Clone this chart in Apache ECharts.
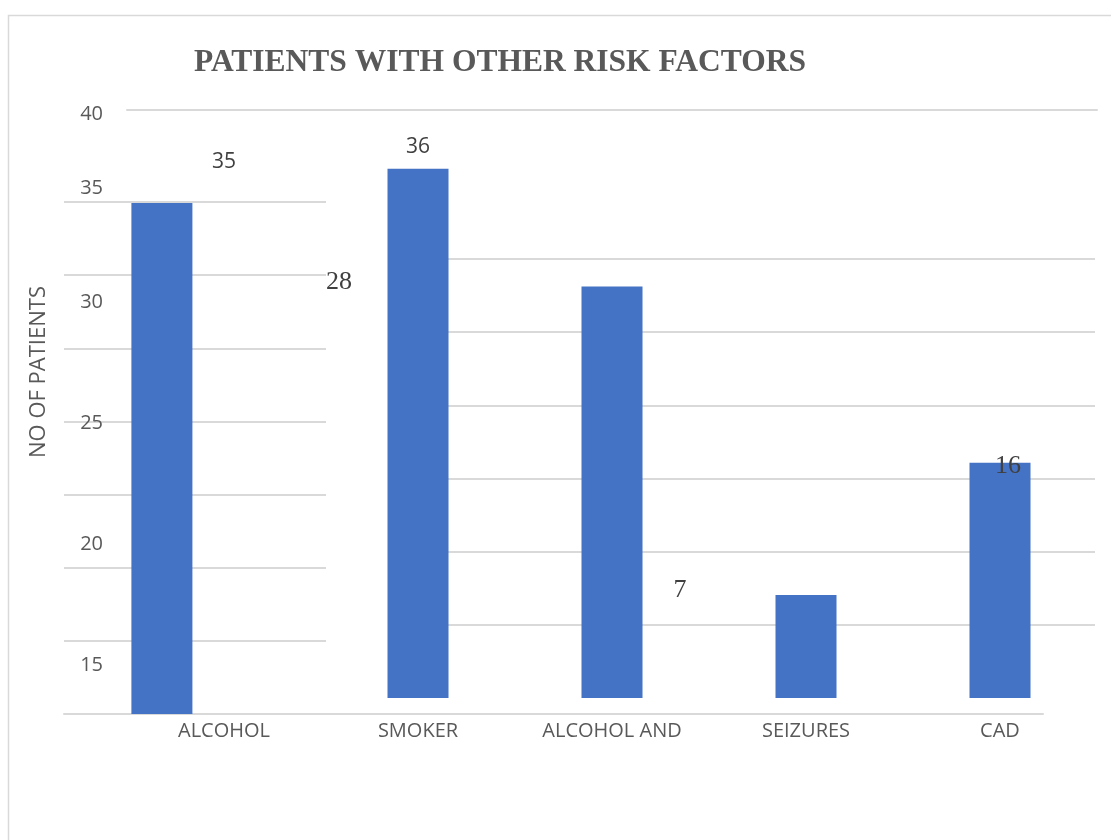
<!DOCTYPE html>
<html>
<head>
<meta charset="utf-8">
<title>Patients with other risk factors</title>
<script src="https://cdn.jsdelivr.net/npm/echarts@6/dist/echarts.min.js"></script>
<style>
  html, body { margin: 0; padding: 0; background: #ffffff; }
  #chart { width: 1111px; height: 840px; }
</style>
</head>
<body>
<div id="chart"></div>
<script>
// Risk factor categories and patient counts
const categories = ['ALCOHOL', 'SMOKER', 'ALCOHOL AND', 'SEIZURES', 'CAD'];
const patients = [35, 36, 28, 7, 16];

// Tick labels of the value scale at the left
const upperTicks = [35, 40];
const lowerTicks = [15, 20, 25, 30];

const chartTitle = 'PATIENTS WITH OTHER RISK FACTORS';
const axisTitle = 'NO OF PATIENTS';

const BAR = '#4472C4';
const GRID_LINE = '#d9d9d9';
const TEXT = '#595959';
const LABEL = '#404040';
const SANS = '"Open Sans", "Noto Sans", sans-serif';
const SERIF = '"Liberation Serif", "DejaVu Serif", serif';

// Label placement for each bar of the right-hand panel
const labelStyles = [
  null,
  { offset: [0, -6], fontFamily: SANS, fontSize: 21 },
  { offset: [-273, 14], fontFamily: SERIF, fontSize: 26 },
  { offset: [-126, 13], fontFamily: SERIF, fontSize: 26 },
  { offset: [8, 21], fontFamily: SERIF, fontSize: 26 }
];

const leftData = patients.map((v, i) => (i === 0 ? v : null));
const rightData = patients.map((v, i) => {
  if (i === 0) return null;
  const s = labelStyles[i];
  return {
    value: v,
    label: { offset: s.offset, fontFamily: s.fontFamily, fontSize: s.fontSize }
  };
});

const hiddenValueX = (gridIndex) => ({ type: 'value', gridIndex: gridIndex, show: false });
const lineStyle = { color: GRID_LINE, width: 2 };

const chart = echarts.init(document.getElementById('chart'), null, { renderer: 'canvas' });

chart.setOption({
  animation: false,
  backgroundColor: '#ffffff',
  title: {
    text: chartTitle,
    left: 189,
    top: 42,
    textStyle: {
      fontFamily: SERIF,
      fontWeight: 'bold',
      fontSize: 31.5,
      color: TEXT
    }
  },
  graphic: [{
    type: 'rect',
    shape: { x: 8.5, y: 15.5, width: 1200, height: 900 },
    style: { fill: 'none', stroke: GRID_LINE, lineWidth: 1.5 },
    silent: true
  }],
  grid: [
    // 0: alcohol panel with the base axis
    { left: 64, right: 68, top: 130, bottom: 126 },
    // 1: horizontal guides of the left panel
    { left: 64, width: 262, top: 202, bottom: 126 },
    // 2: right panel bars and category labels
    { left: 127, width: 970, top: 110, bottom: 142 },
    // 3: horizontal guides of the right panel
    { left: 448, right: 16, top: 259, bottom: 215 },
    // 4, 5: value tick labels
    { left: 108, width: 1, top: 114, height: 74 },
    { left: 108, width: 1, top: 302, height: 363 },
    // 6: value axis title
    { left: 64, width: 1, top: 282, height: 180 }
  ],
  xAxis: [
    {
      type: 'category', gridIndex: 0, data: categories,
      axisLine: { show: true, lineStyle: lineStyle },
      axisTick: { show: false },
      axisLabel: { show: false }
    },
    hiddenValueX(1),
    {
      type: 'category', gridIndex: 2, data: categories,
      axisLine: { show: false },
      axisTick: { show: false },
      axisLabel: { color: TEXT, fontFamily: SANS, fontSize: 20, margin: 23 }
    },
    {
      type: 'category', gridIndex: 2, data: categories, position: 'top',
      axisLine: { show: true, lineStyle: lineStyle },
      axisTick: { show: false },
      axisLabel: { show: false }
    },
    hiddenValueX(3),
    hiddenValueX(4),
    hiddenValueX(5),
    hiddenValueX(6)
  ],
  yAxis: [
    { type: 'value', gridIndex: 0, min: 0, max: 40, interval: 5, show: false },
    {
      type: 'value', gridIndex: 1, min: 0, max: 35, interval: 5,
      axisLine: { show: false }, axisTick: { show: false }, axisLabel: { show: false },
      splitLine: { show: true, lineStyle: lineStyle }
    },
    { type: 'value', gridIndex: 2, min: 0, max: 40, interval: 5, show: false },
    {
      type: 'value', gridIndex: 3, min: 5, max: 30, interval: 5,
      axisLine: { show: false }, axisTick: { show: false }, axisLabel: { show: false },
      splitLine: { show: true, lineStyle: lineStyle }
    },
    {
      type: 'value', gridIndex: 4, min: upperTicks[0], max: upperTicks[upperTicks.length - 1], interval: 5,
      axisLine: { show: false }, axisTick: { show: false }, splitLine: { show: false },
      axisLabel: { color: TEXT, fontFamily: SANS, fontSize: 20, margin: 5 }
    },
    {
      type: 'value', gridIndex: 5, min: lowerTicks[0], max: lowerTicks[lowerTicks.length - 1], interval: 5,
      axisLine: { show: false }, axisTick: { show: false }, splitLine: { show: false },
      axisLabel: { color: TEXT, fontFamily: SANS, fontSize: 20, margin: 5 }
    },
    {
      type: 'value', gridIndex: 6, min: 0, max: 1,
      axisLine: { show: false }, axisTick: { show: false }, splitLine: { show: false },
      axisLabel: { show: false },
      name: axisTitle, nameLocation: 'middle', nameRotate: 90, nameGap: 14,
      nameTextStyle: { color: TEXT, fontFamily: SANS, fontSize: 22 }
    }
  ],
  series: [
    {
      type: 'bar',
      xAxisIndex: 0, yAxisIndex: 0,
      data: leftData,
      barWidth: 61,
      itemStyle: { color: BAR },
      label: {
        show: true, position: 'top', offset: [62, -25],
        color: LABEL, fontFamily: SANS, fontSize: 21
      }
    },
    {
      type: 'bar',
      xAxisIndex: 2, yAxisIndex: 2,
      data: rightData,
      barWidth: 61,
      itemStyle: { color: BAR },
      label: { show: true, position: 'top', color: LABEL, fontFamily: SANS, fontSize: 21 }
    }
  ]
});
</script>
</body>
</html>
